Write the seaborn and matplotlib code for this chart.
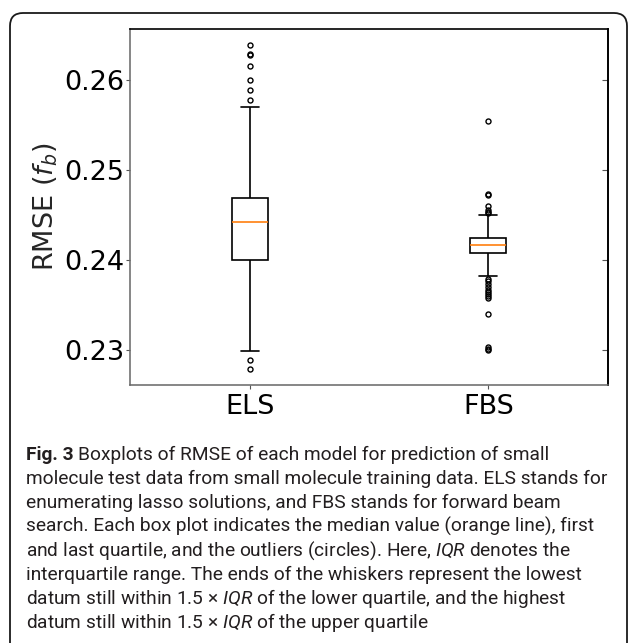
"""Boxplots of RMSE for ELS and FBS"""

import matplotlib
matplotlib.use("Agg")
import matplotlib.pyplot as plt
from matplotlib import font_manager
from matplotlib.patches import FancyBboxPatch
import pandas as pd
import seaborn as sns

# samples per model (outliers and whisker ends,
# values inside the box estimated so the quartiles land where they are drawn)
models = ["ELS", "FBS"]
els_rmse = [0.22796, 0.22889, 0.22993, 0.2330, 0.2355, 0.2372, 0.2386, 0.2395,
            0.24011, 0.2408, 0.2414, 0.2420, 0.2426, 0.2431, 0.2436, 0.2440,
            0.2443, 0.2447, 0.2451, 0.2455, 0.2459, 0.2462, 0.2465, 0.2468,
            0.24693, 0.25704, 0.25778, 0.25889, 0.26008, 0.26156, 0.26286,
            0.26296, 0.26389]
fbs_rmse = [0.23000, 0.23018, 0.23035, 0.23407, 0.23578, 0.23600, 0.23625,
            0.23645, 0.23670, 0.23705, 0.23740, 0.23770, 0.23796, 0.23833,
            0.24078, 0.24085, 0.24092, 0.24098, 0.24105, 0.24112, 0.24118,
            0.24125, 0.24132, 0.24138, 0.24145, 0.24152, 0.24158, 0.24164,
            0.24170, 0.24176, 0.24182, 0.24188, 0.24194, 0.24200, 0.24206,
            0.24212, 0.24218, 0.24224, 0.24230, 0.24236, 0.24241, 0.24246,
            0.24252, 0.24280, 0.24320, 0.24360, 0.24400, 0.24440, 0.24470,
            0.24500, 0.24525, 0.24537, 0.24556, 0.24611, 0.24733, 0.24744,
            0.25548]
y_ticks = [0.23, 0.24, 0.25, 0.26]
y_tick_labels = ["0.23", "0.24", "0.25", "0.26"]

caption_label = "Fig. 3"
caption_lines = [
    "Boxplots of RMSE of each model for prediction of small",
    "molecule test data from small molecule training data. ELS stands for",
    "enumerating lasso solutions, and FBS stands for forward beam",
    "search. Each box plot indicates the median value (orange line), first",
    r"and last quartile, and the outliers (circles). Here, $\mathit{IQR}$ denotes the",
    "interquartile range. The ends of the whiskers represent the lowest",
    r"datum still within 1.5 × $\mathit{IQR}$ of the lower quartile, and the highest",
    r"datum still within 1.5 × $\mathit{IQR}$ of the upper quartile",
]
# approximate pixel widths of a few caption lines in the reference
caption_widths = {1: 584, 2: 503, 3: 585, 5: 564}


def pick_font(prefs):
    names = {f.name for f in font_manager.fontManager.ttflist}
    for name in prefs:
        if name in names:
            return name
    return "DejaVu Sans"


def main() -> None:
    sns.set_style("white")
    plt.rcParams["font.family"] = ["DejaVu Sans"]
    cap_font = pick_font(["Roboto", "Lato", "Open Sans", "Noto Sans"])
    plt.rcParams["mathtext.rm"] = cap_font
    plt.rcParams["mathtext.it"] = cap_font + ":italic"
    plt.rcParams["mathtext.bf"] = cap_font + ":bold"

    df = pd.DataFrame({
        "model": [models[0]] * len(els_rmse) + [models[1]] * len(fbs_rmse),
        "rmse": els_rmse + fbs_rmse,
    })

    fig = plt.figure(figsize=(6.3, 6.43), dpi=100)
    ax = fig.add_axes([0.2071, 0.4012, 0.7573, 0.5532])

    sns.boxplot(data=df, x="model", y="rmse", order=models, width=0.15,
                color="white", linecolor="black", linewidth=1.2, whis=1.5,
                medianprops=dict(color="#ff7f0e", linewidth=1.2),
                flierprops=dict(marker="o", markersize=3.6,
                                markerfacecolor="none",
                                markeredgecolor="black",
                                markeredgewidth=1.0),
                ax=ax)

    ax.set_xlim(-0.5, 1.5)
    ax.set_yticks(y_ticks)
    ax.set_yticklabels(y_tick_labels)
    ax.set_xlabel("")
    ax.set_ylabel(r"RMSE ($f_b$)", fontsize=19.5, labelpad=3)
    ax.tick_params(axis="both", labelsize=19.5, length=3, width=0.8,
                   direction="out", colors="#555555", labelcolor="black",
                   left=True, bottom=True)
    ax.tick_params(axis="y", pad=1.5)
    for side in ["left", "bottom"]:
        ax.spines[side].set_color("#666666")
        ax.spines[side].set_linewidth(1.1)
    for side in ["top", "right"]:
        ax.spines[side].set_color("black")
        ax.spines[side].set_linewidth(1.2)

    sec = ax.secondary_yaxis("right")
    sec.set_yticks(y_ticks)
    sec.tick_params(direction="in", length=4, width=0.8, colors="#555555",
                    labelright=False)
    sec.spines["right"].set_color("black")
    sec.spines["right"].set_linewidth(1.2)

    # rounded frame around figure and caption
    frame = FancyBboxPatch((0.10, -0.40), 6.17, 6.70,
                           boxstyle="round,pad=0,rounding_size=0.13",
                           transform=fig.dpi_scale_trans, fill=False,
                           edgecolor="#1a1a1a", linewidth=1.3)
    fig.patches.append(frame)

    # caption, sized so the lines span about as wide as in the reference
    renderer = fig.canvas.get_renderer()
    size = 12.5
    ratios = []
    for idx, target in caption_widths.items():
        probe = fig.text(0, 0, caption_lines[idx], fontsize=size,
                         family=cap_font, math_fontfamily="custom")
        ratios.append(target / probe.get_window_extent(renderer).width)
        probe.remove()
    size = size * sum(ratios) / len(ratios)

    x0 = 26 / 630
    text_kw = dict(fontsize=size, family=cap_font, math_fontfamily="custom",
                   va="baseline", ha="left", color="#231f20")
    for i, line in enumerate(caption_lines):
        y = 1 - (460 + 24.0 * i) / 643
        x = x0
        if i == 0:
            lab = fig.text(x0, y, caption_label, fontweight="bold", **text_kw)
            x = x0 + (lab.get_window_extent(renderer).width + size * 0.35) / 630
        fig.text(x, y, line, **text_kw)

    fig.savefig("out.png", dpi=100)


if __name__ == "__main__":
    main()
